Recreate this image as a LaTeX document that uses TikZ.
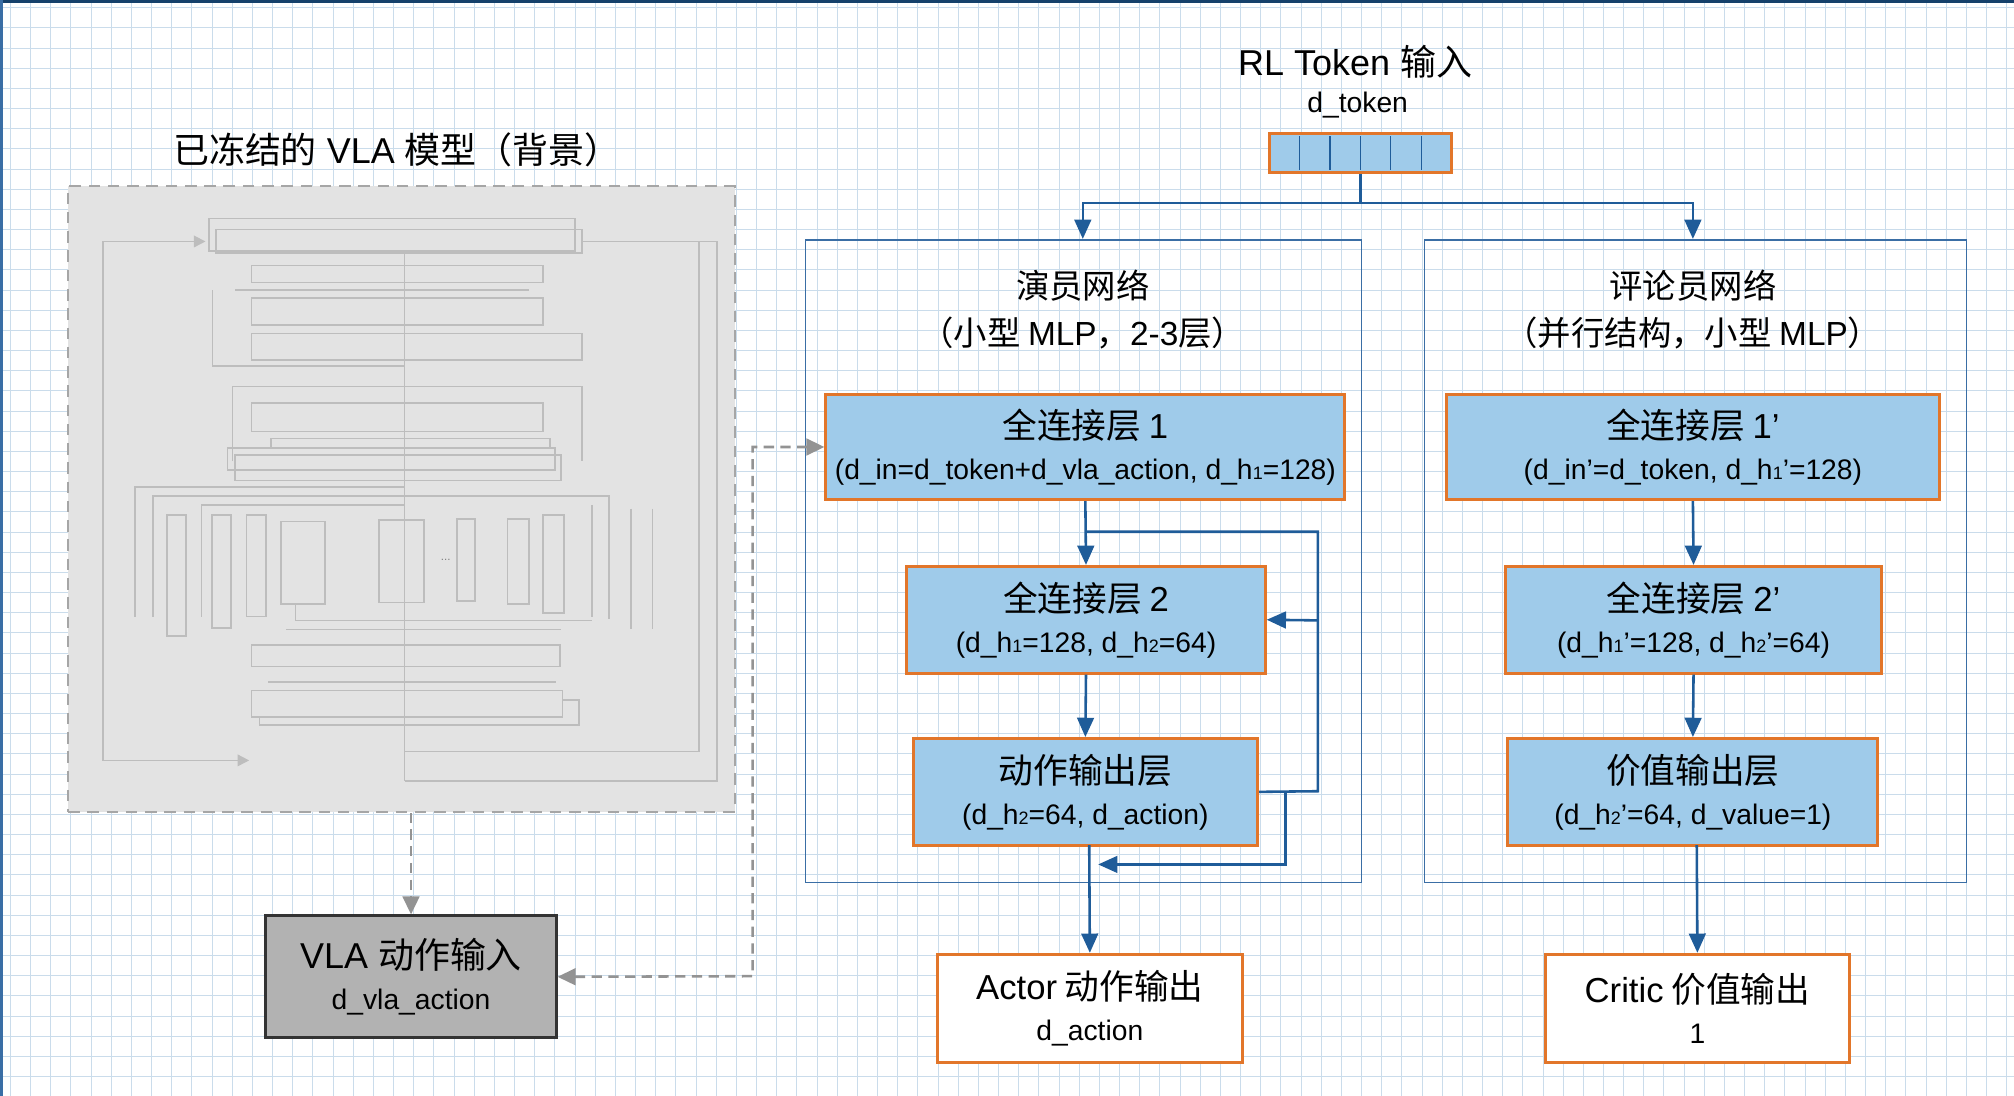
\documentclass[tikz,border=0pt]{standalone}
\usepackage{fontspec}
\setmainfont{Liberation Sans}
\newfontfamily\cjk{Noto Sans CJK SC}
\usetikzlibrary{arrows.meta}
\definecolor{gridc}{HTML}{CADCEB}
\definecolor{bluef}{HTML}{9FCBEA}
\definecolor{orangeb}{HTML}{E2762A}
\definecolor{navy}{HTML}{1F5C99}
\definecolor{frameb}{HTML}{3A6EA5}
\definecolor{sk}{HTML}{BDBDBD}
\tikzset{
  lay/.style={draw=orangeb,line width=2.4pt,fill=bluef,inner sep=0pt,align=center,font=\fontsize{22}{32}\selectfont},
  outb/.style={draw=orangeb,line width=2.4pt,fill=white,inner sep=0pt,align=center,font=\fontsize{22}{32}\selectfont},
  cont/.style={draw=frameb,line width=1.2pt},
  flow/.style={draw=navy,line width=2pt,-{Triangle[length=15pt,width=13pt]}},
  fl/.style={draw=navy,line width=2pt},
  dsh/.style={draw=gray!85,line width=2pt,dash pattern=on 8pt off 5pt},
  gtip/.tip={Triangle[length=14pt,width=13pt]},
  bigt/.style={font=\fontsize{26}{36}\selectfont\cjk},
  skl/.style={draw=sk,line width=1.3pt},
}
\newcommand{\bgt}{\fontsize{27}{30}\selectfont\cjk}
\newcommand{\sml}[1]{{\fontsize{14}{16}\selectfont #1}}
\begin{document}
\begin{tikzpicture}[x=1pt,y=-1pt]
\useasboundingbox (0,0) rectangle (1568,853);
\fill[white] (0,0) rectangle (1568,853);
\foreach \i in {0,...,100} \draw[gridc,line width=0.6pt] (8+\i*15.7,0) -- (8+\i*15.7,853);
\foreach \i in {0,...,55} \draw[gridc,line width=0.6pt] (0,6+\i*15.7) -- (1568,6+\i*15.7);
\draw[navy!70!black,line width=3pt] (0,1) -- (1568,1);
\draw[frameb,line width=2pt] (1,0) -- (1,853);

% frozen VLA model
\node[font=\fontsize{28}{32}\selectfont] (ttl) at (309,117) {{\cjk 已冻结的} VLA {\cjk 模型（背景）}};
\node[draw=gray!70,dash pattern=on 9pt off 6pt,line width=1.6pt,fill=gray!22,minimum width=519pt,minimum height=487pt,inner sep=0pt] (vla) at (312.5,388.5) {};
\begin{scope}[skl]
\draw (162.5,170) rectangle (447.5,195.5);
\draw (168,178.7) rectangle (453,197);
\draw (455,188) -- (558,188) -- (558,608) -- (315,608);
\draw (453,188) -- (544,188) -- (544,585) -- (315,585);
\draw[-{Triangle[length=9pt,width=9pt]}] (80,188) -- (160,188);
\draw[-{Triangle[length=9pt,width=9pt]}] (80,188) -- (80,592) -- (194,592);
\draw (315,197) -- (315,608);
\draw (195.7,206.7) rectangle (423,220);
\draw (183,226) -- (412,226);
\draw (195.7,232) rectangle (423,253);
\draw (195.7,259.6) rectangle (453,280.5);
\draw (165.5,226) -- (165.5,285) -- (315,285);
\draw (181,359) -- (181,301) -- (453,301) -- (453,359);
\draw (195.7,313.5) rectangle (423,336);
\draw (211,341.5) rectangle (428,349);
\draw (177,349) rectangle (432,366);
\draw (183,354) rectangle (437,374);
\draw (105,480) -- (105,379) -- (315,379);
\draw (119,480) -- (119,386) -- (474,386) -- (474,482);
\draw (157,480) -- (157,393) -- (315,393);
\draw (130,401) rectangle (145,495);
\draw (165,401) rectangle (180,489);
\draw (192,401) rectangle (207,480);
\draw (219,406) rectangle (253,470);
\draw (295,405) rectangle (330,469);
\draw (356,404) rectangle (370,468);
\draw (395,404) rectangle (412,470);
\draw (423,401) rectangle (439,477);
\draw (461,393) -- (461,480);
\draw (491,396) -- (491,490);
\draw (508,396) -- (508,490);
\draw (230,470) -- (230,483) -- (461,483);
\draw (223,490) -- (437,490);
\draw (195.7,502) rectangle (436,519);
\draw (209,531) -- (433,531);
\draw (195.7,537.6) rectangle (438,558);
\draw (202,558) -- (202,564.5) -- (451,564.5) -- (451,545) -- (438,545);
\end{scope}
\node[text=gray,font=\small] (dots) at (347,436) {...};

\node[draw=gray!40!black,line width=2.2pt,fill=gray!60,minimum width=226pt,minimum height=95pt,align=center,inner sep=0pt,font=\fontsize{22}{32}\selectfont] (vin) at (320,760.5) {{\fontsize{28}{32}\selectfont VLA {\cjk 动作输入}}\\d\_vla\_action};

% RL token
\node[font=\fontsize{28}{32}\selectfont] (rlt) at (1055,48) {RL Token {\cjk 输入}};
\node[font=\fontsize{22}{26}\selectfont] (dtok) at (1057,82) {d\_token};
\node[lay,minimum width=142pt,minimum height=30pt] (tok) at (1059,119) {};
\foreach \k in {1,...,5} \draw[navy,line width=1pt] (988+\k*23.7,106) -- (988+\k*23.7,132);

% containers
\node[cont,minimum width=433pt,minimum height=500pt,inner sep=0pt] (actor) at (843.5,437) {};
\node[cont,minimum width=422pt,minimum height=500pt,inner sep=0pt] (critic) at (1320,437) {};
\node[bigt,align=center] (at) at (843,241) {演员网络\\（小型 {\rmfamily MLP}，{\rmfamily 2-3}层）};
\node[bigt,align=center] (ct) at (1318,241) {评论员网络\\（并行结构，小型 {\rmfamily MLP}）};

\coordinate (tj) at (1059,158);
\draw[fl] (tok.south) -- (tj);
\draw[flow] (tj) -| (843,186);
\draw[flow] (tj) -| (1318,186);

% actor layers
\node[lay,minimum width=404pt,minimum height=82pt] (fa1) at (845,348) {{\bgt 全连接层 {\rmfamily 1}}\\(d\_in=d\_token+d\_vla\_action, d\_h\sml{1}=128)};
\node[lay,minimum width=279pt,minimum height=83pt] (fa2) at (845.5,482.5) {{\bgt 全连接层 {\rmfamily 2}}\\(d\_h\sml{1}=128, d\_h\sml{2}=64)};
\node[lay,minimum width=268pt,minimum height=83pt] (fa3) at (845,616.5) {{\bgt 动作输出层}\\(d\_h\sml{2}=64, d\_action)};
\node[outb,minimum width=237pt,minimum height=84pt] (aout) at (848.5,785) {{\bgt {\rmfamily Actor} 动作输出}\\d\_action};
\draw[flow] (fa1.south) -- (fa2.north);
\draw[flow] (fa2.south) -- (fa3.north);
\draw[flow] (848,658) -- (aout.north);
\coordinate (s1) at (845,414);
\coordinate (s2) at (1026,414);
\coordinate (s3) at (1026,616);
\draw[fl] (s1) -- (s2) -- (s3) -- (fa3.east);
\draw[flow] (1026,483) -- (fa2.east);
\coordinate (s4) at (1001,616);
\draw[flow] (s4) -- (1001,673) -- (855,673);

% critic layers
\node[lay,minimum width=384pt,minimum height=82pt] (fc1) at (1318,348) {{\bgt 全连接层 {\rmfamily 1’}}\\(d\_in'=d\_token, d\_h\sml{1}'=128)};
\node[lay,minimum width=293pt,minimum height=83pt] (fc2) at (1318.5,482.5) {{\bgt 全连接层 {\rmfamily 2’}}\\(d\_h\sml{1}'=128, d\_h\sml{2}'=64)};
\node[lay,minimum width=288pt,minimum height=83pt] (fc3) at (1318,616.5) {{\bgt 价值输出层}\\(d\_h\sml{2}'=64, d\_value=1)};
\node[outb,minimum width=237pt,minimum height=84pt] (cout) at (1321.5,785) {{\bgt {\rmfamily Critic} 价值输出}\\1};
\draw[flow] (fc1.south) -- (fc2.north);
\draw[flow] (fc2.south) -- (fc3.north);
\draw[flow] (1321,658) -- (cout.north);

% dashed links
\draw[dsh,-gtip] (vin.north |- vla.south) -- (vin.north);
\coordinate (d1) at (586,760);
\coordinate (d2) at (586,348);
\draw[dsh,gtip-gtip] (vin.east) -- (d1) -- (d2) -- (fa1.west);
\end{tikzpicture}
\end{document}
